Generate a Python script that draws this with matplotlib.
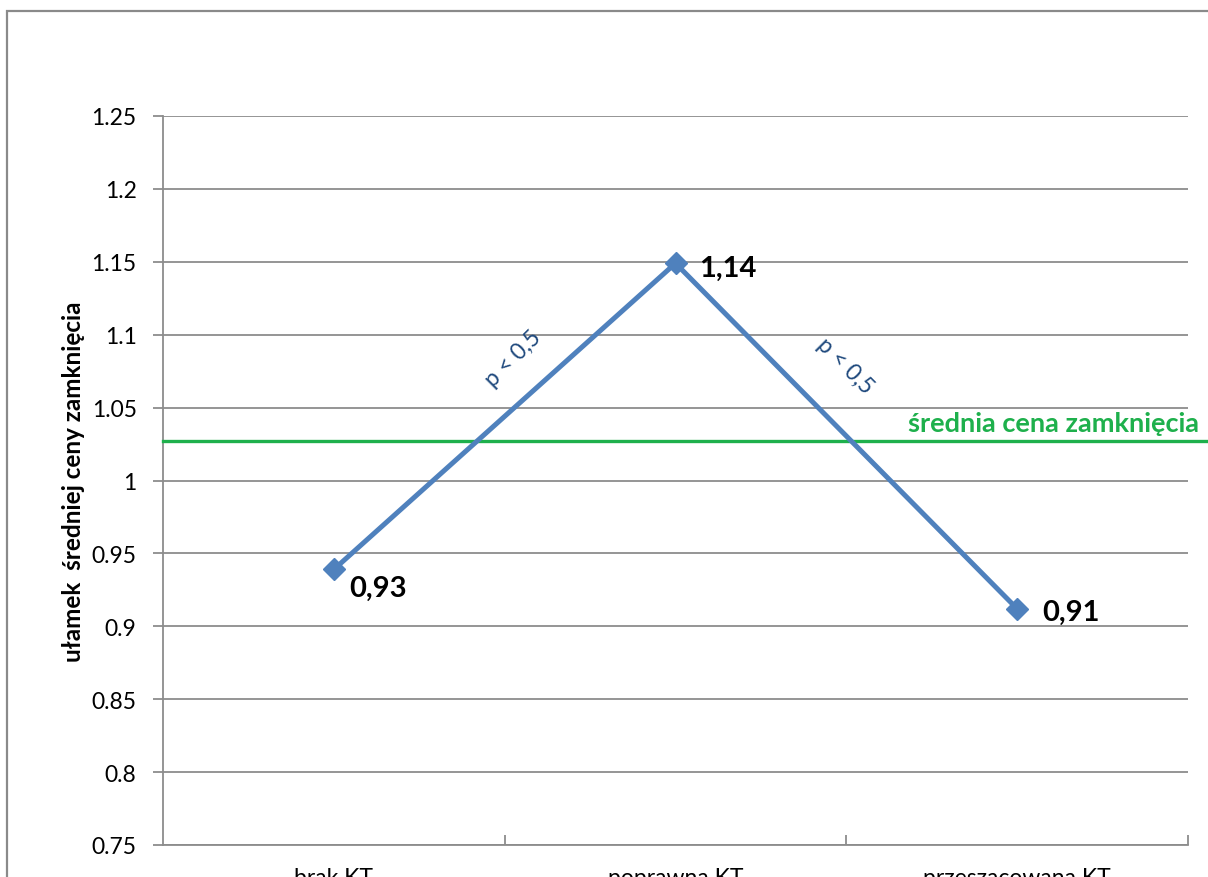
import math
import numpy as np
import matplotlib
matplotlib.use("Agg")
import matplotlib.pyplot as plt
from matplotlib.patches import Rectangle

plt.rcParams["font.family"] = ["Lato", "DejaVu Sans"]

categories = ["brak KT", "poprawna KT", "przeszacowana KT"]
values = [0.939, 1.149, 0.912]
mean_close = 1.027
mean_label = "średnia cena zamknięcia"
y_label = "ułamek  średniej ceny zamknięcia"
p_labels = ["p < 0,5", "p < 0,5"]
y_ticks = [0.75, 0.8, 0.85, 0.9, 0.95, 1.0, 1.05, 1.1, 1.15, 1.2, 1.25]

LINE = "#4F81BD"
GRID = "#8C8C8C"
GREEN = "#1EB04C"
NAVY = "#1F497D"

W, H = 1208, 878
fig = plt.figure(figsize=(W / 100, H / 100), dpi=100)
ax = fig.add_axes([163 / W, 1 - 846 / H, (1188 - 163) / W, (846 - 117) / H])

x = np.arange(len(categories))
ax.plot(x, values, color=LINE, lw=3.6, marker="D", markersize=11,
        markerfacecolor=LINE, markeredgecolor=LINE, zorder=4, clip_on=False)

# values are printed truncated to two decimals with a comma separator
def fmt(v):
    return f"{math.floor(v * 100) / 100:.2f}".replace(".", ",")

offsets = [(11, -13), (17, -3), (18, -2)]
for xi, v, off in zip(x, values, offsets):
    ax.annotate(fmt(v), (xi, v), xytext=off, textcoords="offset points",
                ha="left", va="center", fontsize=21, fontweight="bold",
                color="black", zorder=5)

# significance notes above each segment
p_offsets = [(6, 42), (-1, 51)]
for i, rot, off in zip(range(2), (45, -45), p_offsets):
    mx = (x[i] + x[i + 1]) / 2
    my = (values[i] + values[i + 1]) / 2
    ax.annotate(p_labels[i], (mx, my), xytext=off, textcoords="offset points",
                rotation=rot, rotation_mode="anchor",
                ha="center", va="center", fontsize=16.5, color=NAVY)

# mean closing price line runs past the plot to the figure edge
x_end = -0.5 + 3 * (W - 163) / (1188 - 163)
ax.plot([-0.5, x_end], [mean_close, mean_close], color=GREEN, lw=2.4,
        clip_on=False, zorder=3)
ax.text(x_end - 0.025, mean_close + 0.004, mean_label, ha="right", va="bottom",
        fontsize=19.5, fontweight="bold", color=GREEN)

ax.set_xlim(-0.5, 2.5)
ax.set_ylim(0.75, 1.25)
ax.set_yticks(y_ticks)
ax.set_yticklabels([f"{v:g}" for v in y_ticks], fontsize=16.5)
ax.yaxis.grid(True, color=GRID, lw=1.3)
ax.set_axisbelow(True)

ax.set_xticks(x)
ax.set_xticklabels(categories, fontsize=16.5)
ax.tick_params(axis="x", length=0, pad=16)
ax.set_xticks([0.5, 1.5, 2.5], minor=True)
ax.tick_params(axis="x", which="minor", direction="in", length=7, color=GRID, width=1.3)
ax.tick_params(axis="y", direction="out", length=7, color=GRID, width=1.3, pad=12)

for s in ("top", "right"):
    ax.spines[s].set_visible(False)
for s in ("left", "bottom"):
    ax.spines[s].set_color(GRID)
    ax.spines[s].set_linewidth(1.3)

ax.set_ylabel(y_label, fontsize=17.5, fontweight="bold")
ax.yaxis.set_label_coords(-78 / (1188 - 163), 0.5)

# chart area frame
fig.patches.append(Rectangle((7 / W, -0.1), 1.2, 1 - 12 / H + 0.1,
                             transform=fig.transFigure, fill=False,
                             edgecolor="#8A8A8A", lw=1.6))

fig.savefig("out.png", dpi=100)
